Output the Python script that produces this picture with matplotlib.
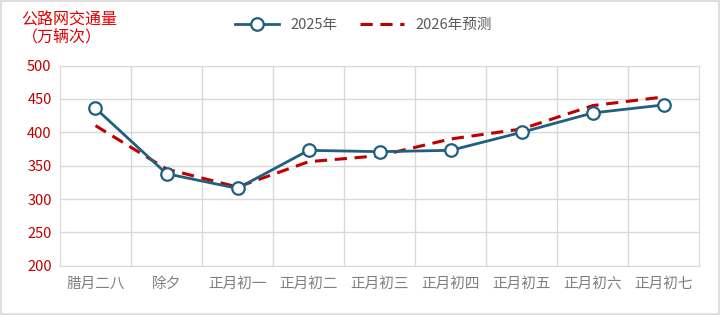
import matplotlib.pyplot as plt
from matplotlib.patches import Rectangle

plt.rcParams['font.family'] = ['Noto Sans CJK SC', 'DejaVu Sans']

# Données
jours = ['腊月二八', '除夕', '正月初一', '正月初二', '正月初三',
         '正月初四', '正月初五', '正月初六', '正月初七']
v2025 = [436, 338, 316, 373, 371, 373, 400, 429, 441]
v2026 = [410, 345, 318, 356, 365, 390, 405, 440, 453]

fig = plt.figure(figsize=(7.2, 3.15), dpi=100)
fig.patches.append(Rectangle((0.002, 0.003), 0.996, 0.994, transform=fig.transFigure,
                             fill=False, edgecolor='#d9d9d9', linewidth=1.2))

ax = fig.add_axes([0.0833, 0.156, 0.888, 0.636])
x = list(range(len(jours)))

ax.plot(x, v2025, color='#1f5f80', linewidth=2, marker='o', markersize=9,
        markerfacecolor='white', markeredgecolor='#1f5f80', markeredgewidth=1.6,
        label='2025年', zorder=3)
ax.plot(x, v2026, color='#c00000', linewidth=2.2, linestyle=(0, (4, 2.5)),
        label='2026年预测', zorder=2)

ax.set_xlim(-0.5, len(jours) - 0.5)
ax.set_ylim(200, 500)
ax.set_yticks(range(200, 501, 50))
ax.set_xticks(x)
ax.set_xticklabels(jours)
ax.set_xticks([i + 0.5 for i in x[:-1]], minor=True)

# --- Grille ---
ax.grid(axis='y', color='#d9d9d9', linewidth=1)
ax.grid(axis='x', which='minor', color='#d9d9d9', linewidth=1)
ax.set_axisbelow(True)
for s in ax.spines.values():
    s.set_color('#d9d9d9')
ax.tick_params(axis='both', which='both', length=0)
ax.tick_params(axis='y', colors='#c00000', labelsize=10.5, pad=6)
ax.tick_params(axis='x', colors='#7f7f7f', labelsize=10.5, pad=8)

fig.text(0.03, 0.965, '公路网交通量\n（万辆次）', color='#e00000', fontsize=11.5,
         ha='left', va='top', linespacing=1.05)

fig.legend(loc='upper center', bbox_to_anchor=(0.505, 0.985), ncol=2, frameon=False,
           fontsize=10.5, labelcolor='#595959', handlelength=3, columnspacing=1.5)

plt.savefig('out.png', dpi=100)
